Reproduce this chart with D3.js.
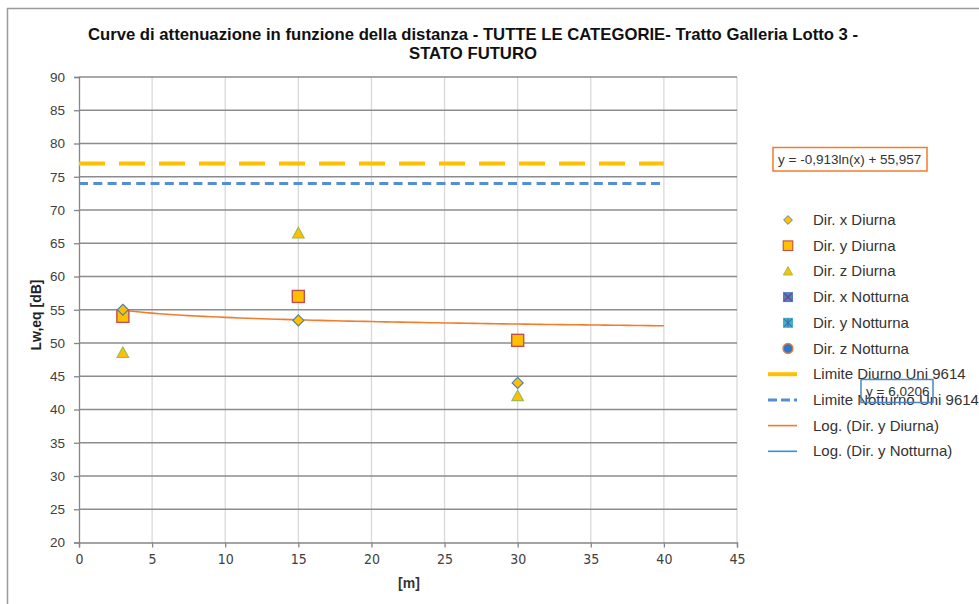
<!DOCTYPE html>
<html>
<head>
<meta charset="utf-8">
<script src="https://cdn.jsdelivr.net/npm/d3@7"></script>
<style>
  body { margin: 0; background: #fff; }
  svg { display: block; font-family: "Liberation Sans", Arial, sans-serif; }
</style>
</head>
<body>
<div class="svg-container"></div>
<script>
// data
var distances = [3, 15, 30];
var dirXDiurna = [55, 53.4, 44];
var dirYDiurna = [54, 57, 50.4];
var dirZDiurna = [48.5, 66.5, 42];
var dirXNotturna = [];
var dirYNotturna = [];
var dirZNotturna = [];

var limiteDiurno = 77;
var limiteNotturno = 74;
var limiteRange = [0, 40];

// trendline y = -0,913ln(x) + 55,957
var trendCoef = [-0.913, 55.957];
var trendRange = [3, 40];

var xTicks = [0, 5, 10, 15, 20, 25, 30, 35, 40, 45];
var yTicks = [20, 25, 30, 35, 40, 45, 50, 55, 60, 65, 70, 75, 80, 85, 90];

var legendNames = ["Dir. x Diurna", "Dir. y Diurna", "Dir. z Diurna", "Dir. x Notturna",
  "Dir. y Notturna", "Dir. z Notturna", "Limite Diurno Uni 9614", "Limite Notturno Uni 9614",
  "Log. (Dir. y Diurna)", "Log. (Dir. y Notturna)"];

var margin = { top: 77, right: 242, bottom: 61.5, left: 79 };
var drawWidth = 979, drawHeight = 604;
var width = drawWidth - margin.left - margin.right;
var height = drawHeight - margin.top - margin.bottom;

var svg = d3.select(".svg-container").append("svg")
  .attr("width", drawWidth)
  .attr("height", drawHeight);

// outer chart frame
svg.append("path")
  .attr("d", "M7.5,604 V8.5 H979")
  .attr("fill", "none")
  .attr("stroke", "#9a9a9a")
  .attr("stroke-width", 1.5);

var g = svg.append("g").attr("transform", "translate(" + margin.left + "," + margin.top + ")");

var x = d3.scaleLinear().domain([0, 45]).range([0, width]);
var y = d3.scaleLinear().domain([20, 90]).range([height, 0]);

// grid
g.append("g").selectAll("line").data(xTicks.slice(1)).join("line")
  .attr("x1", function(d) { return x(d); }).attr("x2", function(d) { return x(d); })
  .attr("y1", 0).attr("y2", height)
  .attr("stroke", "#d9d9d9").attr("stroke-width", 1.3);
g.append("g").selectAll("line").data(yTicks.slice(1)).join("line")
  .attr("x1", 0).attr("x2", width)
  .attr("y1", function(d) { return y(d); }).attr("y2", function(d) { return y(d); })
  .attr("stroke", "#8c8c8c").attr("stroke-width", 1.3);

// axes
var yAxis = g.append("g")
  .call(d3.axisLeft(y).tickValues(yTicks).tickSize(5).tickPadding(9));
var xAxis = g.append("g").attr("transform", "translate(0," + height + ")")
  .call(d3.axisBottom(x).tickValues(xTicks).tickSize(5).tickPadding(7));
[yAxis, xAxis].forEach(function(a) {
  a.select(".domain").attr("stroke", "#868686").attr("stroke-width", 1.3);
  a.selectAll(".tick line").attr("stroke", "#868686").attr("stroke-width", 1.3);
});
yAxis.selectAll("text").attr("font-size", 13.5).attr("fill", "#404040")
  .attr("font-family", "'Liberation Sans', Arial, sans-serif");
xAxis.selectAll("text").attr("font-size", 14).attr("fill", "#404040")
  .attr("font-family", "'Liberation Sans Narrow', 'DejaVu Sans Condensed', sans-serif");

// limit lines
var lineFunction = d3.line().x(function(d) { return x(d[0]); }).y(function(d) { return y(d[1]); });
g.append("path")
  .attr("d", lineFunction(limiteRange.map(function(v) { return [v, limiteDiurno]; })))
  .attr("stroke", "#ffc000").attr("stroke-width", 4).attr("fill", "none")
  .attr("stroke-dasharray", "26,14");
g.append("path")
  .attr("d", lineFunction(limiteRange.map(function(v) { return [v, limiteNotturno]; })))
  .attr("stroke", "#558ed5").attr("stroke-width", 3).attr("fill", "none")
  .attr("stroke-dasharray", "9,5.3");

// log trendline
var trendX = d3.range(trendRange[0], trendRange[1] + 0.01, 0.5);
g.append("path")
  .attr("d", lineFunction(trendX.map(function(v) { return [v, trendCoef[0] * Math.log(v) + trendCoef[1]]; })))
  .attr("stroke", "#f07c2c").attr("stroke-width", 1.6).attr("fill", "none");

// marker drawing helpers
function diamond(sel) {
  return sel.append("path").attr("d", "M0,-5.5 L5.5,0 L0,5.5 L-5.5,0 Z")
    .attr("fill", "#ffc000").attr("stroke", "#4f81bd").attr("stroke-width", 1.2);
}
function square(sel) {
  return sel.append("rect").attr("x", -6).attr("y", -6).attr("width", 12).attr("height", 12)
    .attr("fill", "#ffc000").attr("stroke", "#c0504d").attr("stroke-width", 1.4);
}
function triangle(sel) {
  return sel.append("path").attr("d", "M0,-6 L5.8,4.5 L-5.8,4.5 Z")
    .attr("fill", "#ffc000").attr("stroke", "#9bbb59").attr("stroke-width", 1.2);
}

function plotSeries(values, shape) {
  var pts = g.append("g").selectAll("g").data(values).join("g")
    .attr("transform", function(d, i) { return "translate(" + x(distances[i]) + "," + y(d) + ")"; });
  pts.each(function() { shape(d3.select(this)); });
}
plotSeries(dirZDiurna, triangle);
plotSeries(dirYDiurna, square);
plotSeries(dirXDiurna, diamond);

// axis titles
svg.append("text").attr("x", 409).attr("y", 588).attr("text-anchor", "middle")
  .attr("font-size", 14).attr("font-weight", "bold").attr("fill", "#333")
  .attr("font-family", "'Liberation Sans Narrow', sans-serif").text("[m]");
svg.append("text").attr("transform", "translate(41,315) rotate(-90)").attr("text-anchor", "middle")
  .attr("font-size", 14).attr("font-weight", "bold").attr("fill", "#222").text("Lw,eq [dB]");

// title
var title = svg.append("text").attr("text-anchor", "middle").attr("font-size", 16.7)
  .attr("font-weight", "bold").attr("fill", "#111");
title.append("tspan").attr("x", 473).attr("y", 40)
  .text("Curve di attenuazione in funzione della distanza - TUTTE LE CATEGORIE- Tratto Galleria Lotto 3 -");
title.append("tspan").attr("x", 473).attr("y", 59).text("STATO FUTURO");

// trendline equation label
svg.append("rect").attr("x", 773).attr("y", 147.5).attr("width", 154).attr("height", 23.5)
  .attr("fill", "#fff").attr("stroke", "#f07c2c").attr("stroke-width", 1.5);
svg.append("text").attr("x", 778).attr("y", 164).attr("font-size", 13.5).attr("fill", "#333")
  .text("y = -0,913ln(x) + 55,957");

// legend
var legend = svg.append("g");
var legendY = function(i) { return 220 + i * 25.7; };
var items = legend.selectAll("g").data(legendNames).join("g")
  .attr("transform", function(d, i) { return "translate(788," + legendY(i) + ")"; });
items.append("text").attr("x", 25).attr("y", 5).attr("font-size", 15).attr("fill", "#333")
  .text(function(d) { return d; });

var sym = function(i) { return d3.select(items.nodes()[i]); };
diamond(sym(0)).attr("transform", "scale(0.8)");
square(sym(1)).attr("transform", "scale(0.8)");
triangle(sym(2)).attr("transform", "scale(0.8)");
// notturna markers (legend only)
sym(3).append("rect").attr("x", -5).attr("y", -5).attr("width", 10).attr("height", 10).attr("fill", "#4f81bd");
sym(3).append("path").attr("d", "M-4,-4 L4,4 M4,-4 L-4,4").attr("stroke", "#7b3f8c").attr("stroke-width", 1.3);
sym(4).append("rect").attr("x", -5).attr("y", -5).attr("width", 10).attr("height", 10).attr("fill", "#4bacc6");
sym(4).append("path").attr("d", "M-4,-4 L4,4 M4,-4 L-4,4 M0,-4.5 V4.5").attr("stroke", "#2e75b6").attr("stroke-width", 1.1);
sym(5).append("circle").attr("r", 5).attr("fill", "#2e75d0").attr("stroke", "#f07c2c").attr("stroke-width", 1.3);
sym(6).append("line").attr("x1", -20).attr("x2", 9).attr("stroke", "#ffc000").attr("stroke-width", 4);
sym(7).append("line").attr("x1", -20).attr("x2", 9).attr("stroke", "#558ed5").attr("stroke-width", 3)
  .attr("stroke-dasharray", "9,4");
sym(8).append("line").attr("x1", -20).attr("x2", 9).attr("stroke", "#f07c2c").attr("stroke-width", 1.6);
sym(9).append("line").attr("x1", -20).attr("x2", 9).attr("stroke", "#3d8fdc").attr("stroke-width", 1.6);

// second (notturna) trendline label, overlapping the legend as in the source
svg.append("rect").attr("x", 861).attr("y", 379.5).attr("width", 72).attr("height", 23)
  .attr("fill", "none").attr("stroke", "#4a86c8").attr("stroke-width", 1.5);
svg.append("text").attr("x", 866).attr("y", 396).attr("font-size", 13.5).attr("fill", "#333")
  .text("y = 6,0206");
</script>
</body>
</html>
